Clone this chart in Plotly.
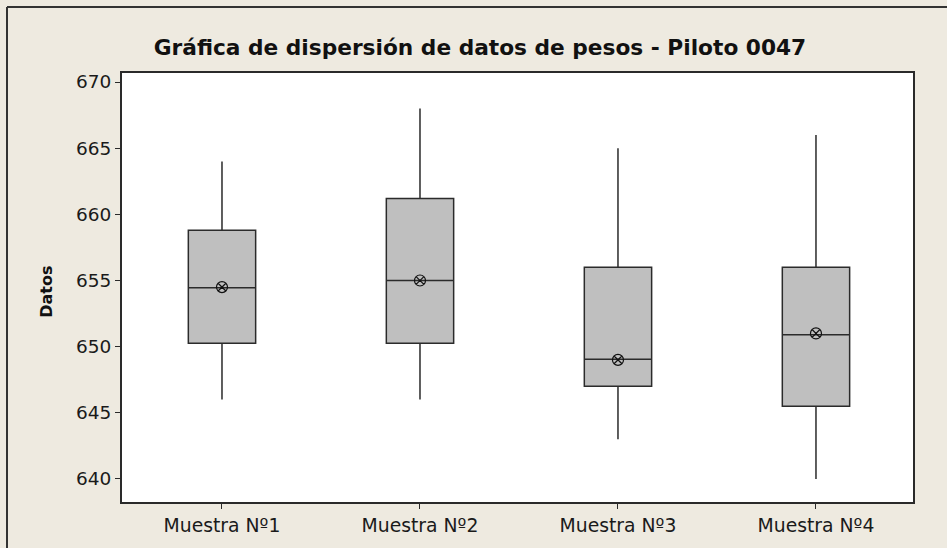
import plotly.graph_objects as go

categories = ["Muestra Nº1", "Muestra Nº2", "Muestra Nº3", "Muestra Nº4"]
q1 = [650.25, 650.25, 647.0, 645.5]
median = [654.45, 655.0, 649.05, 650.9]
q3 = [658.8, 661.2, 656.0, 656.0]
lower_whisker = [646.0, 646.0, 643.0, 640.0]
upper_whisker = [664.0, 668.0, 665.0, 666.0]
means = [654.5, 655.0, 649.0, 651.0]
y_ticks = [640, 645, 650, 655, 660, 665, 670]

title_text = "Gráfica de dispersión de datos de pesos - Piloto 0047"
y_title = "Datos"

BG = "#EEEAE0"
FONT = "DejaVu Sans"

fig = go.Figure()
fig.add_trace(go.Box(
    x=categories,
    q1=q1, median=median, q3=q3,
    lowerfence=lower_whisker, upperfence=upper_whisker,
    fillcolor="#BFBFBF",
    line=dict(color="#2b2b2b", width=1.5),
    whiskerwidth=0,
    width=0.34,
    boxpoints=False,
    showlegend=False,
    hoverinfo="skip",
))
fig.add_trace(go.Scatter(
    x=categories, y=means, mode="markers",
    marker=dict(symbol="circle-x-open", size=11, color="#111111", line=dict(width=1.2)),
    showlegend=False,
))

fig.update_layout(
    width=947, height=548,
    margin=dict(l=122, r=34, t=73, b=46),
    paper_bgcolor=BG, plot_bgcolor="white",
    font=dict(family=FONT, size=16, color="#1a1a1a"),
    title=dict(text=title_text, font=dict(family=FONT, size=21.7, color="#111111", weight="bold"),
               x=480 / 947, xref="container", xanchor="center",
               y=1 - 47 / 548, yref="container", yanchor="middle"),
    xaxis=dict(range=[-0.505, 3.49], showline=True, mirror=True, linecolor="#2a2a2a", linewidth=2,
               ticks="outside", ticklen=5, tickcolor="#2a2a2a", showgrid=False, zeroline=False,
               tickfont=dict(family=FONT, size=18.8, color="#1a1a1a")),
    yaxis=dict(range=[638.26, 670.68], tickvals=y_ticks, showline=True, mirror=True,
               linecolor="#2a2a2a", linewidth=2, ticks="outside", ticklen=5, tickcolor="#2a2a2a",
               showgrid=False, zeroline=False,
               tickfont=dict(family=FONT, size=18.5, color="#1a1a1a")),
    annotations=[dict(text=y_title, xref="paper", yref="paper", x=(47 - 122) / 791, y=0.49,
                      textangle=-90, showarrow=False, xanchor="center", yanchor="middle",
                      font=dict(family=FONT, size=16, color="#111111", weight="bold"))],
    shapes=[
        dict(type="line", xref="paper", yref="paper", x0=(7 - 122) / 791, x1=(960 - 122) / 791,
             y0=1 + (73 - 7) / 429, y1=1 + (73 - 7) / 429, line=dict(color="#333333", width=2)),
        dict(type="line", xref="paper", yref="paper", x0=(7 - 122) / 791, x1=(7 - 122) / 791,
             y0=1 + (73 - 7) / 429, y1=-0.2, line=dict(color="#333333", width=2)),
    ],
)

fig.write_html("out.html", config={"displayModeBar": False},
               post_script="document.body.style.margin='0';document.body.style.overflow='hidden';")
